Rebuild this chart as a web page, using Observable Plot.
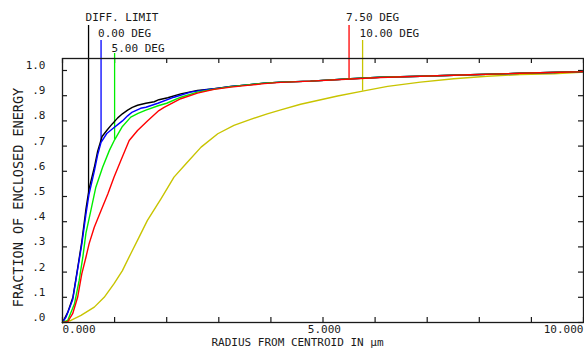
<!DOCTYPE html>
<html><head><meta charset="utf-8">
<script src="https://cdn.jsdelivr.net/npm/d3@7"></script>
<script src="https://cdn.jsdelivr.net/npm/@observablehq/plot@0.6"></script>
<style>
html,body{margin:0;padding:0;background:#fff;}
svg{display:block}
g[aria-label="xtick-labels"] text{letter-spacing:2.8px}
g[aria-label="series-labels"] text{letter-spacing:0.35px}
g[aria-label="x-title"] text{letter-spacing:0.4px}
g[aria-label="y-title"] text{letter-spacing:0.2px}
</style></head><body><div id="chart"></div>
<script>
// ---- data ----
const seriesNames = ["DIFF. LIMIT", "0.00 DEG", "5.00 DEG", "7.50 DEG", "10.00 DEG"];

const radiusDiff = [0,0.1,0.2,0.29,0.37,0.45,0.51,0.61,0.675,0.76,0.86,0.955,1.06,1.15,1.25,1.34,1.44,1.6,1.76,1.85,2.02,2.27,2.59,2.91,3.23,3.55,3.87,4.19,4.76,5.53,6.1,6.87,7.83,8.79,9.94,10];
const energyDiff = [0,0.04,0.1,0.215,0.32,0.45,0.53,0.615,0.68,0.738,0.765,0.788,0.812,0.828,0.843,0.854,0.862,0.87,0.876,0.884,0.892,0.907,0.921,0.928,0.937,0.943,0.95,0.954,0.958,0.967,0.973,0.977,0.983,0.989,0.995,0.996];

const radius0 = [0,0.067,0.195,0.29,0.37,0.45,0.51,0.61,0.675,0.74,0.85,0.955,1.06,1.15,1.25,1.34,1.5,1.6,1.83,2.14,2.46,2.8,3.04,3.23,3.55,3.87,4.19,4.76,5.53,6.1,6.87,7.83,8.79,9.94,10];
const energy0 = [0,0.021,0.09,0.21,0.31,0.43,0.51,0.6,0.665,0.715,0.75,0.768,0.785,0.8,0.82,0.835,0.85,0.854,0.87,0.894,0.914,0.925,0.931,0.937,0.943,0.95,0.954,0.958,0.967,0.973,0.977,0.983,0.989,0.995,0.996];

const radius5 = [0,0.1,0.23,0.32,0.39,0.45,0.55,0.64,0.77,0.9,1.0,1.15,1.31,1.45,1.6,1.85,2.0,2.27,2.59,2.91,3.23,3.55,3.87,4.19,4.76,5.53,6.1,6.87,7.83,8.79,9.94,10];
const energy5 = [0,0.008,0.074,0.167,0.259,0.355,0.45,0.537,0.616,0.683,0.725,0.778,0.815,0.83,0.843,0.861,0.87,0.894,0.914,0.926,0.936,0.943,0.95,0.954,0.958,0.967,0.973,0.977,0.983,0.989,0.995,0.996];

const radius75 = [0,0.1,0.195,0.29,0.37,0.45,0.51,0.61,0.74,0.87,0.99,1.12,1.28,1.44,1.63,1.85,1.95,2.27,2.59,2.91,3.23,3.55,3.87,4.19,4.76,5.53,6.1,6.87,7.83,8.79,9.94,10];
const energy75 = [0,0.003,0.035,0.1,0.193,0.259,0.312,0.378,0.444,0.51,0.577,0.643,0.722,0.762,0.8,0.841,0.854,0.888,0.91,0.925,0.934,0.941,0.948,0.953,0.958,0.966,0.972,0.977,0.983,0.989,0.995,0.996];

const radius10 = [0,0.16,0.355,0.61,0.8,0.99,1.15,1.31,1.47,1.63,1.79,1.89,2.14,2.37,2.66,2.98,3.29,3.61,3.93,4.19,4.57,5.28,5.76,6.24,6.87,7.51,8.15,8.79,9.43,9.94,10];
const energy10 = [0,0.008,0.028,0.061,0.1,0.154,0.206,0.273,0.339,0.405,0.458,0.491,0.577,0.63,0.696,0.749,0.782,0.806,0.828,0.844,0.866,0.899,0.918,0.937,0.954,0.967,0.977,0.984,0.987,0.993,0.995];

// radius at which each label's leader meets its curve
const leaderRadius = [0.5, 0.74, 1.0, 5.5, 5.76];

const xTickValues = [0,1,2,3,4,5,6,7,8,9,10];
const xLabelValues = [0, 5, 10];
const xLabelTexts = ["0.000", "5.000", "10.000"];
const yTickValues = [0,0.1,0.2,0.3,0.4,0.5,0.6,0.7,0.8,0.9,1.0];
const yTickTexts = [".0",".1",".2",".3",".4",".5",".6",".7",".8",".9","1.0"];
const xTitle = "RADIUS FROM CENTROID IN µm";
const yTitle = "FRACTION OF ENCLOSED ENERGY";

// ---- build ----
const allR = [radiusDiff, radius0, radius5, radius75, radius10];
const allE = [energyDiff, energy0, energy5, energy75, energy10];
const tables = allR.map((rs, i) => rs.map((r, j) => ({r, v: allE[i][j], series: seriesNames[i]})));

const W = 584, H = 351, mL = 62, mR = 1, mT = 58, mB = 29;
const yMax = 1.0476;
const pxPerY = (H - mT - mB) / yMax;
const yAtPx = py => yMax - (py - mT) / pxPerY;
const tickLenX = 5 / ((W - mL - mR) / 10);
const tickLenY = 5 / pxPerY;

function interp(rs, es, r) {
  for (let j = 1; j < rs.length; j++) {
    if (rs[j] >= r) { const t = (r - rs[j-1]) / (rs[j] - rs[j-1]); return es[j-1] + t * (es[j] - es[j-1]); }
  }
  return es[es.length - 1];
}
const rowOf = [0, 1, 2, 0, 1];
const labelCenterPx = [16.7, 33, 48.3];
const leaderTopPx = [25, 40, 53];
const annots = seriesNames.map((s, i) => ({
  series: s, r: leaderRadius[i],
  top: yAtPx(leaderTopPx[rowOf[i]]),
  bottom: interp(allR[i], allE[i], leaderRadius[i]),
  labelY: yAtPx(labelCenterPx[rowOf[i]])
}));

const colors = ["#000000", "#0000ff", "#00ee00", "#ff0000", "#c8c400"];
const drawOrder = [4, 0, 1, 2, 3];
const font = "DejaVu Sans Mono";
const ink = "#1a1a1a";

const plot = Plot.plot({
  width: W, height: H,
  marginLeft: mL, marginRight: mR, marginTop: mT, marginBottom: mB,
  x: {domain: [0, 10], axis: null},
  y: {domain: [0, yMax], axis: null},
  color: {domain: seriesNames, range: colors},
  style: {fontFamily: font, background: "#fff", color: ink},
  marks: [
    // inward ticks
    Plot.ruleX(xTickValues, {x: d => d, y1: 0, y2: tickLenY, stroke: ink, strokeWidth: 1.2}),
    Plot.ruleX(xTickValues, {x: d => d, y1: yMax - tickLenY, y2: yMax, stroke: ink, strokeWidth: 1.2}),
    Plot.ruleY(yTickValues, {y: d => d, x1: 0, x2: tickLenX, stroke: ink, strokeWidth: 1.2}),
    Plot.ruleY(yTickValues, {y: d => d, x1: 10 - tickLenX, x2: 10, stroke: ink, strokeWidth: 1.2}),
    // leaders
    ...drawOrder.map(i => Plot.ruleX([annots[i]], {x: "r", y1: "top", y2: "bottom", stroke: "series", strokeWidth: 1.3})),
    // curves
    ...drawOrder.map(i => Plot.line(tables[i], {x: "r", y: "v", stroke: "series", strokeWidth: 1.4})),
    Plot.frame({stroke: ink, strokeWidth: 1.3}),
    // series labels
    Plot.text(annots, {x: "r", y: "labelY", text: "series", textAnchor: "start", dx: -3, fontSize: 11, fill: ink, ariaLabel: "series-labels"}),
    // y tick labels
    Plot.text(yTickValues, {y: d => d, text: (d, i) => yTickTexts[i], frameAnchor: "left", textAnchor: "end", dx: -17, dy: -5, fontSize: 11, fill: ink}),
    // x tick labels
    ...xLabelValues.map((v, i) => Plot.text([v], {
      x: d => d, text: () => xLabelTexts[i], frameAnchor: "bottom", dy: 10, fontSize: 11, fill: ink,
      textAnchor: i === 0 ? "start" : i === xLabelValues.length - 1 ? "end" : "middle",
      dx: i === 0 ? 0 : i === xLabelValues.length - 1 ? 0 : 1.4,
      ariaLabel: "xtick-labels"
    })),
    // titles
    Plot.text([xTitle], {text: d => d, frameAnchor: "bottom", textAnchor: "middle", dx: -25.5, dy: 23, fontSize: 11, fill: ink, ariaLabel: "x-title"}),
    Plot.text([yTitle], {text: d => d, frameAnchor: "left", textAnchor: "middle", rotate: -90, dx: -44, dy: 7, fontSize: 13.5, fill: ink, ariaLabel: "y-title"})
  ]
});
document.getElementById("chart").appendChild(plot);
</script></body></html>
